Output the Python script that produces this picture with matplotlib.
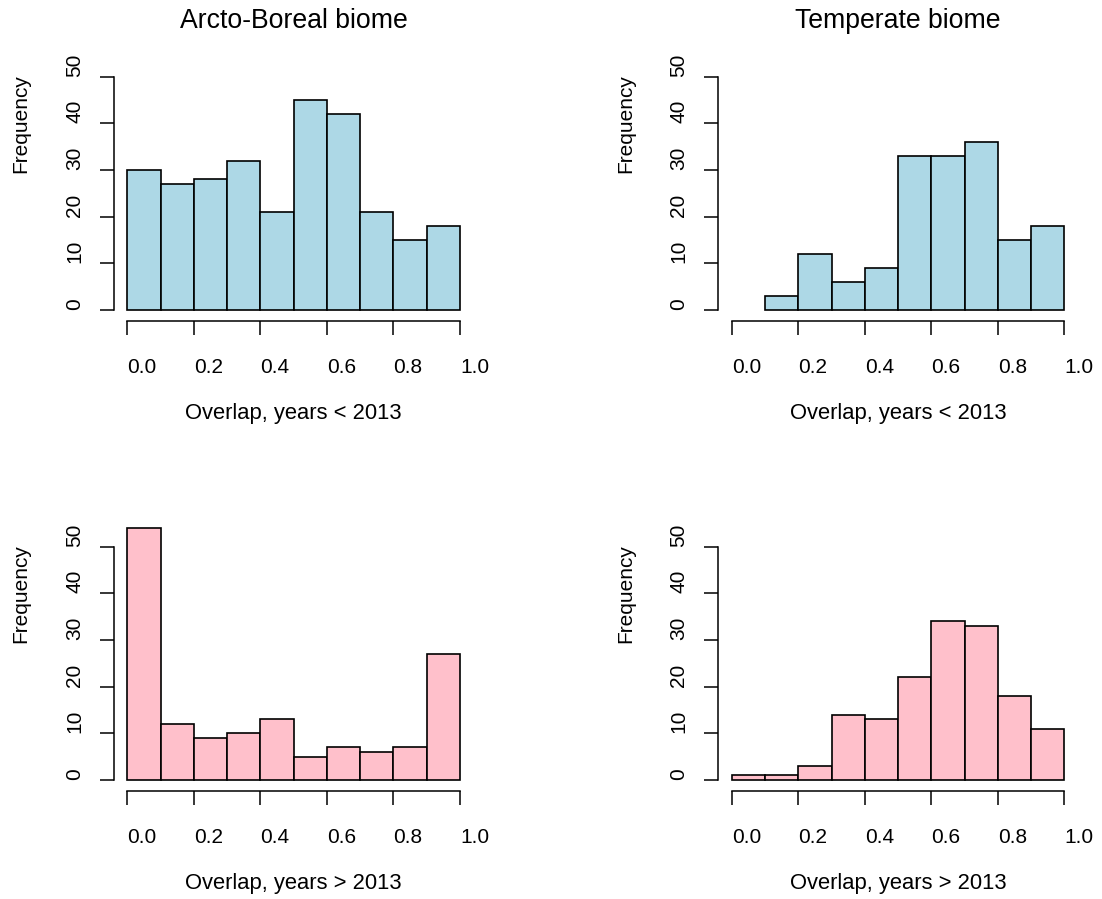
import matplotlib
matplotlib.use("Agg")
import matplotlib.pyplot as plt
import matplotlib.transforms as mtransforms

plt.rcParams['font.family'] = ['Liberation Sans', 'DejaVu Sans']

# bin edges (left side) and counts
bin_left = [0.0, 0.1, 0.2, 0.3, 0.4, 0.5, 0.6, 0.7, 0.8, 0.9]
bin_width = 0.1

arcto_before = [30, 27, 28, 32, 21, 45, 42, 21, 15, 18]
temp_before = [0, 3, 12, 6, 9, 33, 33, 36, 15, 18]
arcto_after = [54, 12, 9, 10, 13, 5, 7, 6, 7, 27]
temp_after = [1, 1, 3, 14, 13, 22, 34, 33, 18, 11]

x_ticks = [0.0, 0.2, 0.4, 0.6, 0.8, 1.0]
x_tick_labels = ["0.0", "0.2", "0.4", "0.6", "0.8", "1.0"]
y_ticks = [0, 10, 20, 30, 40, 50]
y_tick_labels = ["0", "10", "20", "30", "40", "50"]

titles = ["Arcto-Boreal biome", "Temperate biome", None, None]
xlabels = ["Overlap, years < 2013", "Overlap, years < 2013",
           "Overlap, years > 2013", "Overlap, years > 2013"]
series = [arcto_before, temp_before, arcto_after, temp_after]
colors = ["#ADD8E6", "#ADD8E6", "#FFC0CB", "#FFC0CB"]

W, H = 1102, 899
fig = plt.figure(figsize=(W / 100, H / 100), dpi=100)

ax_w, ax_h = 359.3, 300.3
lefts = [114, 718.4, 114, 718.4]
bottoms = [321, 321, 791, 791]   # pixel rows from top

for i in range(4):
    l, b = lefts[i], bottoms[i]
    ax = fig.add_axes([l / W, (H - b) / H, ax_w / W, ax_h / H])
    # empty bins are not drawn
    xs = [x for x, c in zip(bin_left, series[i]) if c > 0]
    cs = [c for c in series[i] if c > 0]
    ax.bar(xs, cs, width=bin_width, align='edge',
           color=colors[i], edgecolor='black', linewidth=1.2)
    ax.set_xlim(-0.04, 1.04)
    ax.set_ylim(-2.36, 62)

    for s in ['top', 'right']:
        ax.spines[s].set_visible(False)
    ax.spines['left'].set_bounds(0, 50)
    ax.spines['bottom'].set_bounds(0, 1)
    for s in ['left', 'bottom']:
        ax.spines[s].set_linewidth(1.1)

    ax.set_xticks(x_ticks)
    ax.set_yticks(y_ticks)
    ax.set_xticklabels([])
    ax.set_yticklabels([])
    ax.tick_params(direction='out', length=10, width=1.1)

    # tick labels, left-aligned to the tick as in the original
    xt = mtransforms.blended_transform_factory(ax.transData, ax.transAxes)
    for xv, lab in zip(x_ticks, x_tick_labels):
        ax.text(xv, -0.172, lab, transform=xt, ha='left', va='baseline',
                fontsize=15)
    yt = mtransforms.blended_transform_factory(ax.transAxes, ax.transData)
    for yv, lab in zip(y_ticks, y_tick_labels):
        ax.text(-0.0946, yv, lab, transform=yt, rotation=90,
                rotation_mode='anchor', ha='left', va='baseline', fontsize=15)

    ax.text(0.5, -0.327, xlabels[i], transform=xt, ha='center',
            va='baseline', fontsize=15.8)
    ax.text(-0.243, 0.656, "Frequency", transform=ax.transAxes, rotation=90,
            rotation_mode='anchor', ha='center', va='baseline', fontsize=15)
    if titles[i]:
        ax.text(0.5, 0.9747, titles[i], transform=xt, ha='center',
                va='baseline', fontsize=19.2)

fig.savefig("out.png", dpi=100)
